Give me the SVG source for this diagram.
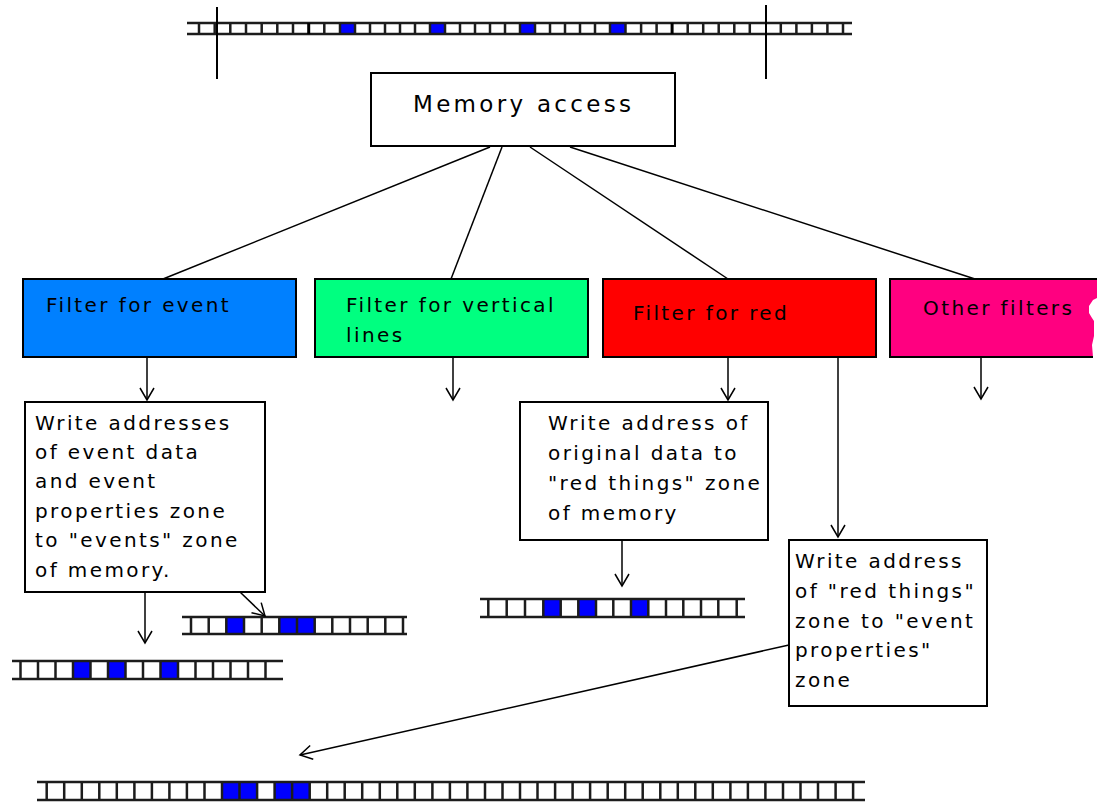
<svg xmlns="http://www.w3.org/2000/svg" width="1097" height="802" viewBox="0 0 1097 802">
<defs>
<style>
text{font-family:"DejaVu Sans","Verdana",sans-serif;font-size:20px;letter-spacing:2.4px;fill:#000}
.big{font-size:23px;letter-spacing:3.3px}
.box{fill:#fff;stroke:#000;stroke-width:2}
.fb{stroke:#000;stroke-width:2}
.strip{fill:none;stroke:#1c1c1c;stroke-width:2.5}
.cell{fill:#0000ff}
.con{fill:none;stroke:#000;stroke-width:1.5}
</style>
<marker id="arr" viewBox="-14 -9 16 18" refX="0" refY="0" markerWidth="16" markerHeight="18" markerUnits="userSpaceOnUse" orient="auto">
<path d="M-12,-7 L0,0 L-12,7" fill="none" stroke="#000" stroke-width="1.5"/>
</marker>
</defs>
<rect width="1097" height="802" fill="#fff"/>

<g id="memory-top">
<rect class="cell" x="340" y="23" width="15" height="11"/>
<rect class="cell" x="430" y="23" width="15" height="11"/>
<rect class="cell" x="520" y="23" width="15" height="11"/>
<rect class="cell" x="610" y="23" width="15.5" height="11"/>
<path class="strip" stroke-width="2" d="M187,23H852M187,34H852M199,23V34M214.7,23V34M230.3,23V34M246,23V34M261.7,23V34M277.3,23V34M293,23V34M324.3,23V34M340,23V34M355,23V34M370,23V34M385,23V34M400,23V34M415,23V34M430,23V34M445,23V34M460,23V34M475,23V34M490,23V34M505,23V34M520,23V34M535,23V34M550,23V34M565,23V34M580,23V34M595,23V34M610,23V34M625.5,23V34M641.1,23V34M656.6,23V34M687.7,23V34M703.2,23V34M718.7,23V34M734.3,23V34M749.8,23V34M780.8,23V34M796.4,23V34M811.9,23V34M827.4,23V34M843,23V34"/>
<path fill="none" stroke="#000" stroke-width="3" d="M308.7,23V34M672.1,23V34"/>
<path fill="none" stroke="#000" stroke-width="2" d="M217,7V79M766,5V79"/>
</g>

<g id="memory-access">
<rect class="box" x="371" y="73" width="304" height="73"/>
<text class="big" x="413" y="112">Memory access</text>
</g>

<g id="filter-event">
<rect class="fb" x="23" y="279" width="273" height="78" fill="#0080ff"/>
<text x="46" y="312">Filter for event</text>
</g>

<g id="filter-vertical">
<rect class="fb" x="315" y="279" width="273" height="78" fill="#00ff80"/>
<text x="346" y="312">Filter for vertical</text>
<text x="346" y="342">lines</text>
</g>

<g id="filter-red">
<rect class="fb" x="603" y="279" width="273" height="78" fill="#ff0000"/>
<text x="633" y="320">Filter for red</text>
</g>

<g id="filter-other">
<path d="M890,279 L1097,279 L1097,298 L1093,300 L1089,306 L1089,313 L1092,318 L1094,321 L1094,336 L1092,345 L1093,357 L890,357 Z" fill="#ff0080"/>
<path d="M1097,279 L890,279 L890,357 L1093,357" fill="none" stroke="#000" stroke-width="2"/>
<text x="923" y="315">Other filters</text>
</g>

<g id="write-events">
<rect class="box" x="25" y="402" width="240" height="190"/>
<text x="35" y="430">Write addresses</text>
<text x="35" y="459">of event data</text>
<text x="35" y="488">and event</text>
<text x="35" y="518">properties zone</text>
<text x="35" y="547">to "events" zone</text>
<text x="35" y="577">of memory.</text>
</g>

<g id="write-red">
<rect class="box" x="520" y="402" width="248" height="138"/>
<text x="548" y="430">Write address of</text>
<text x="548" y="460">original data to</text>
<text x="548" y="490">"red things" zone</text>
<text x="548" y="520">of memory</text>
</g>

<g id="write-props">
<rect class="box" x="789" y="540" width="198" height="166"/>
<text x="795" y="568">Write address</text>
<text x="795" y="598">of "red things"</text>
<text x="795" y="628">zone to "event</text>
<text x="795" y="657">properties"</text>
<text x="795" y="687">zone</text>
</g>

<g id="strip-a">
<rect class="cell" x="226.3" y="617" width="17.7" height="17"/>
<rect class="cell" x="279.3" y="617" width="35.4" height="17"/>
<path class="strip" d="M182,617H407M182,634H407M191,617V634M208.7,617V634M226.3,617V634M244,617V634M261.7,617V634M279.3,617V634M297,617V634M314.7,617V634M332.3,617V634M350,617V634M367.7,617V634M385.3,617V634M403,617V634"/>
</g>

<g id="strip-b">
<rect class="cell" x="73" y="661" width="17.5" height="18"/>
<rect class="cell" x="108" y="661" width="17.5" height="18"/>
<rect class="cell" x="160.5" y="661" width="17.5" height="18"/>
<path class="strip" d="M12,661H283M12,679H283M20.5,661V679M38,661V679M55.5,661V679M73,661V679M90.5,661V679M108,661V679M125.5,661V679M143,661V679M160.5,661V679M178,661V679M195.5,661V679M213,661V679M230.5,661V679M248,661V679M265.5,661V679"/>
</g>

<g id="strip-c">
<rect class="cell" x="543.3" y="599" width="17.4" height="18"/>
<rect class="cell" x="578.3" y="599" width="17.7" height="18"/>
<rect class="cell" x="631" y="599" width="17.3" height="18"/>
<path class="strip" d="M480,599H745M480,617H745M488.3,599V617M506.7,599V617M525,599V617M543.3,599V617M560.7,599V617M578.3,599V617M596,599V617M613.3,599V617M631,599V617M648.3,599V617M666,599V617M683.3,599V617M701,599V617M718.3,599V617M736.7,599V617"/>
</g>

<g id="strip-d">
<rect class="cell" x="222" y="782" width="35.1" height="18"/>
<rect class="cell" x="274.6" y="782" width="35.1" height="18"/>
<path class="strip" d="M37,782H865M37,800H865M46.7,782V800M64.2,782V800M81.8,782V800M99.3,782V800M116.8,782V800M134.4,782V800M151.9,782V800M169.4,782V800M186.9,782V800M204.5,782V800M222,782V800M239.5,782V800M257.1,782V800M274.6,782V800M292.1,782V800M309.7,782V800M327.2,782V800M344.7,782V800M362.2,782V800M379.8,782V800M397.3,782V800M414.8,782V800M432.4,782V800M449.9,782V800M467.4,782V800M485,782V800M502.5,782V800M520,782V800M537.5,782V800M555.1,782V800M572.6,782V800M590.1,782V800M607.7,782V800M625.2,782V800M642.7,782V800M660.3,782V800M677.8,782V800M695.3,782V800M712.8,782V800M730.4,782V800M747.9,782V800M765.4,782V800M783,782V800M800.5,782V800M818,782V800M835.6,782V800M853.1,782V800"/>
</g>

<g id="connectors">
<line class="con" x1="490" y1="147" x2="163" y2="279"/>
<line class="con" x1="502" y1="147" x2="451" y2="279"/>
<line class="con" x1="530" y1="147" x2="728" y2="279"/>
<line class="con" x1="570" y1="147" x2="975" y2="279"/>
<line class="con" x1="147" y1="357" x2="147" y2="400" marker-end="url(#arr)"/>
<line class="con" x1="453" y1="357" x2="453" y2="400" marker-end="url(#arr)"/>
<line class="con" x1="728" y1="357" x2="728" y2="400" marker-end="url(#arr)"/>
<line class="con" x1="838" y1="357" x2="838" y2="537" marker-end="url(#arr)"/>
<line class="con" x1="981" y1="357" x2="981" y2="399" marker-end="url(#arr)"/>
<line class="con" x1="145" y1="592" x2="145" y2="643" marker-end="url(#arr)"/>
<line class="con" x1="240" y1="592" x2="265" y2="616" marker-end="url(#arr)"/>
<line class="con" x1="622" y1="540" x2="622" y2="586" marker-end="url(#arr)"/>
<line class="con" x1="789" y1="645" x2="300" y2="755" marker-end="url(#arr)"/>
</g>
</svg>
